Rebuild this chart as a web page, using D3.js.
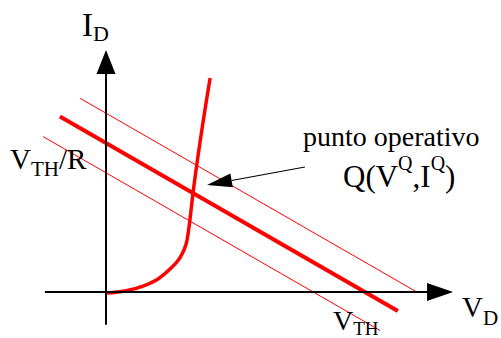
<!DOCTYPE html>
<html>
<head>
<meta charset="utf-8">
<script src="https://cdn.jsdelivr.net/npm/d3@7"></script>
<style>
  html, body { margin: 0; padding: 0; background: #fff; }
  svg { display: block; }
</style>
</head>
<body>
<svg id="chart" width="501" height="338"></svg>
<script>
// Diode characteristic I_D(V_D) and the load line I = (V_TH - V) / R
const deviceV = [0.04, 0.73, 1.43, 2.01, 2.47, 2.82, 3.01, 3.13, 3.19, 3.36, 4.02];
const deviceI = [-0.07, 0.07, 0.40, 0.87, 1.54, 2.21, 2.82, 3.49, 4.16, 6.64, 14.36];

const vth = 10;          // V_TH (x intercept of the load line)
const resistance = 1;    // R, so V_TH/R is the y intercept
// shifted load lines (V_TH ± 2) drawn thin around the main one
const loadShifts = [2, 0, -2];
const loadStartV = [-1.0, -1.78, -2.43];
const loadEndV = [12.0, 11.27, 10.58];

// axis extents and the annotation arrow (data units)
const xAxisV = [-2.36, 13.4];
const yAxisI = [-2.2, 16.24];
const annotTail = [7.68, 8.39];
const annotTip = [3.90, 7.18];

const svg = d3.select("#chart");
const x = d3.scaleLinear().domain([0, 10]).range([106, 365]);
const y = d3.scaleLinear().domain([0, 10]).range([292, 143]);

const red = "#ff0000";
const serif = "'Liberation Serif', 'Times New Roman', Times, serif";

// load lines
loadShifts.forEach((s, i) => {
  const f = v => (vth + s - v) / resistance;
  svg.append("line")
    .attr("x1", x(loadStartV[i])).attr("y1", y(f(loadStartV[i])))
    .attr("x2", x(loadEndV[i])).attr("y2", y(f(loadEndV[i])))
    .attr("stroke", red)
    .attr("stroke-width", s === 0 ? 4 : 1);
});

// device curve
const pts = deviceV.map((v, i) => [v, deviceI[i]]);
svg.append("path")
  .attr("d", d3.line().x(d => x(d[0])).y(d => y(d[1])).curve(d3.curveMonotoneX)(pts))
  .attr("fill", "none")
  .attr("stroke", red)
  .attr("stroke-width", 3.5)
  .attr("stroke-linejoin", "round");

// axes with arrowheads
const x0 = x(0), y0 = y(0);
svg.append("line")
  .attr("x1", x(xAxisV[0])).attr("y1", y0)
  .attr("x2", x(xAxisV[1]) - 20).attr("y2", y0)
  .attr("stroke", "#000").attr("stroke-width", 2);
svg.append("polygon")
  .attr("points", [[x(xAxisV[1]), y0], [x(xAxisV[1]) - 26, y0 - 9], [x(xAxisV[1]) - 26, y0 + 9]].join(" "))
  .attr("fill", "#000");

svg.append("line")
  .attr("x1", x0).attr("y1", y(yAxisI[0]))
  .attr("x2", x0).attr("y2", y(yAxisI[1]) + 20)
  .attr("stroke", "#000").attr("stroke-width", 2);
svg.append("polygon")
  .attr("points", [[x0, y(yAxisI[1])], [x0 - 9.5, y(yAxisI[1]) + 24], [x0 + 9.5, y(yAxisI[1]) + 24]].join(" "))
  .attr("fill", "#000");

// annotation arrow pointing at Q
const tx = x(annotTip[0]), ty = y(annotTip[1]);
const sx = x(annotTail[0]), sy = y(annotTail[1]);
const ang = Math.atan2(sy - ty, sx - tx);
const len = 25, half = 7;
const bx = tx + len * Math.cos(ang), by = ty + len * Math.sin(ang);
svg.append("line")
  .attr("x1", sx).attr("y1", sy).attr("x2", bx).attr("y2", by)
  .attr("stroke", "#000").attr("stroke-width", 1.2);
svg.append("polygon")
  .attr("points", [
    [tx, ty],
    [bx - half * Math.sin(ang), by + half * Math.cos(ang)],
    [bx + half * Math.sin(ang), by - half * Math.cos(ang)]
  ].join(" "))
  .attr("fill", "#000");

// labels
function label(xp, yp, parts) {
  const t = svg.append("text").attr("x", xp).attr("y", yp)
    .attr("font-family", serif).attr("fill", "#000");
  parts.forEach(p => {
    t.append("tspan").attr("font-size", p.size).attr("dy", p.dy || 0).text(p.text);
  });
  return t;
}

label(82, 36, [{ text: "I", size: 33 }, { text: "D", size: 22, dy: 5 }]);
label(10, 169, [{ text: "V", size: 29 }, { text: "TH", size: 21, dy: 7 }, { text: "/R", size: 29, dy: -7 }]);
label(333, 330, [{ text: "V", size: 28 }, { text: "TH", size: 19, dy: 5 }]);
label(462, 317, [{ text: "V", size: 29 }, { text: "D", size: 21, dy: 8 }]);

label(303, 146, [{ text: "punto operativo", size: 28 }]);
label(343, 187, [
  { text: "Q(V", size: 31 },
  { text: "Q", size: 20, dy: -17 },
  { text: ",I", size: 31, dy: 17 },
  { text: "Q", size: 20, dy: -17 },
  { text: ")", size: 31, dy: 17 }
]);
</script>
</body>
</html>
